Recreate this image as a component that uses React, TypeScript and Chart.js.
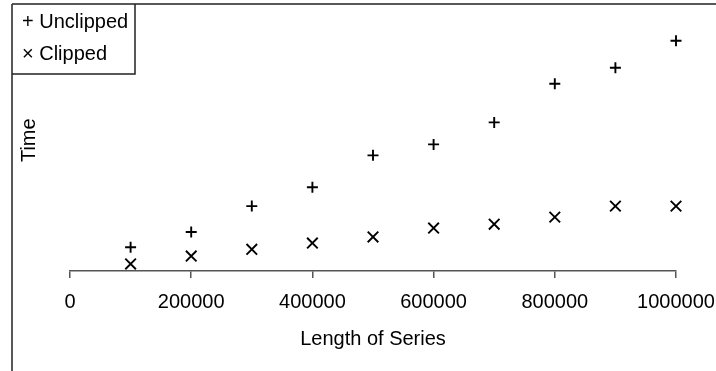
import React, { useEffect, useRef } from "react";
import { Chart, registerables } from "chart.js";

Chart.register(...registerables);

const lengths = [100000, 200000, 300000, 400000, 500000, 600000, 700000, 800000, 900000, 1000000];
const unclipped = [9.1, 14.9, 24.8, 32.0, 44.2, 48.4, 56.8, 71.6, 77.7, 88.0];
const clipped = [2.7, 5.7, 8.3, 10.7, 13.0, 16.4, 17.9, 20.6, 24.8, 24.8];
const xTicks = [0, 200000, 400000, 600000, 800000, 1000000];
const seriesNames = ["Unclipped", "Clipped"];

const FONT = "Liberation Sans, Arial, Helvetica, sans-serif";

const framePlugin = {
  id: "frame",
  afterDraw(chart: any) {
    const ctx = chart.ctx as CanvasRenderingContext2D;
    const area = chart.chartArea;
    ctx.save();
    ctx.strokeStyle = "#222";
    ctx.lineWidth = 1.5;
    // outer frame: top and left
    ctx.beginPath();
    ctx.moveTo(12, 4);
    ctx.lineTo(chart.width, 4);
    ctx.moveTo(12, 4);
    ctx.lineTo(12, chart.height);
    ctx.stroke();
    // legend box
    ctx.beginPath();
    ctx.moveTo(135, 4);
    ctx.lineTo(135, 74);
    ctx.lineTo(12, 74);
    ctx.stroke();
    // legend texts
    ctx.fillStyle = "#000";
    ctx.font = `20px ${FONT}`;
    ctx.textAlign = "left";
    ctx.textBaseline = "alphabetic";
    ctx.fillText("+ " + seriesNames[0], 22, 28);
    ctx.fillText("\u00d7 " + seriesNames[1], 22, 60);
    // y axis title
    ctx.save();
    ctx.translate(29, (area.top + area.bottom) / 2);
    ctx.rotate(-Math.PI / 2);
    ctx.textAlign = "center";
    ctx.textBaseline = "middle";
    ctx.fillText("Time", 0, 0);
    ctx.restore();
    ctx.restore();
  },
};

export default function App() {
  const ref = useRef<HTMLCanvasElement | null>(null);
  useEffect(() => {
    if (!ref.current) return;
    const chart = new Chart(ref.current, {
      type: "scatter",
      data: {
        datasets: [
          {
            label: seriesNames[0],
            data: lengths.map((x, i) => ({ x, y: unclipped[i] })),
            pointStyle: "cross",
            pointRadius: 5.5,
            borderColor: "#000",
            backgroundColor: "#000",
            pointBorderWidth: 1.9,
            clip: false,
          },
          {
            label: seriesNames[1],
            data: lengths.map((x, i) => ({ x, y: clipped[i] })),
            pointStyle: "crossRot",
            pointRadius: 7.5,
            borderColor: "#000",
            backgroundColor: "#000",
            pointBorderWidth: 1.9,
            clip: false,
          },
        ],
      },
      options: {
        responsive: false,
        animation: false,
        events: [],
        layout: { padding: { left: 70, right: 40, top: 4, bottom: 20 } },
        plugins: { legend: { display: false }, tooltip: { enabled: false } },
        scales: {
          x: {
            type: "linear",
            position: "bottom",
            min: 0,
            max: 1000000,
            afterBuildTicks: (axis: any) => {
              axis.ticks = xTicks.map((v) => ({ value: v }));
            },
            afterFit: (axis: any) => {
              axis.paddingLeft = 0;
              axis.paddingRight = 0;
            },
            grid: {
              display: true,
              drawOnChartArea: false,
              drawTicks: true,
              tickLength: 7,
              color: "#555",
              lineWidth: 1.5,
            },
            border: { display: true, color: "#555", width: 1.5 },
            ticks: {
              padding: 12,
              maxRotation: 0,
              autoSkip: false,
              color: "#000",
              font: { size: 20, family: FONT },
              callback: (v: any) => String(v),
            },
            title: {
              display: true,
              text: "Length of Series",
              color: "#000",
              font: { size: 20, family: FONT },
              padding: { top: 1, bottom: 0 },
            },
          },
          y: {
            display: false,
            min: 0,
            max: 100,
          },
        },
      },
      plugins: [framePlugin],
    });
    return () => chart.destroy();
  }, []);
  return (
    <div style={{ position: "absolute", left: 0, top: 0, width: 716, height: 371, background: "#fff" }}>
      <canvas ref={ref} width={716} height={371} style={{ display: "block" }} />
    </div>
  );
}
